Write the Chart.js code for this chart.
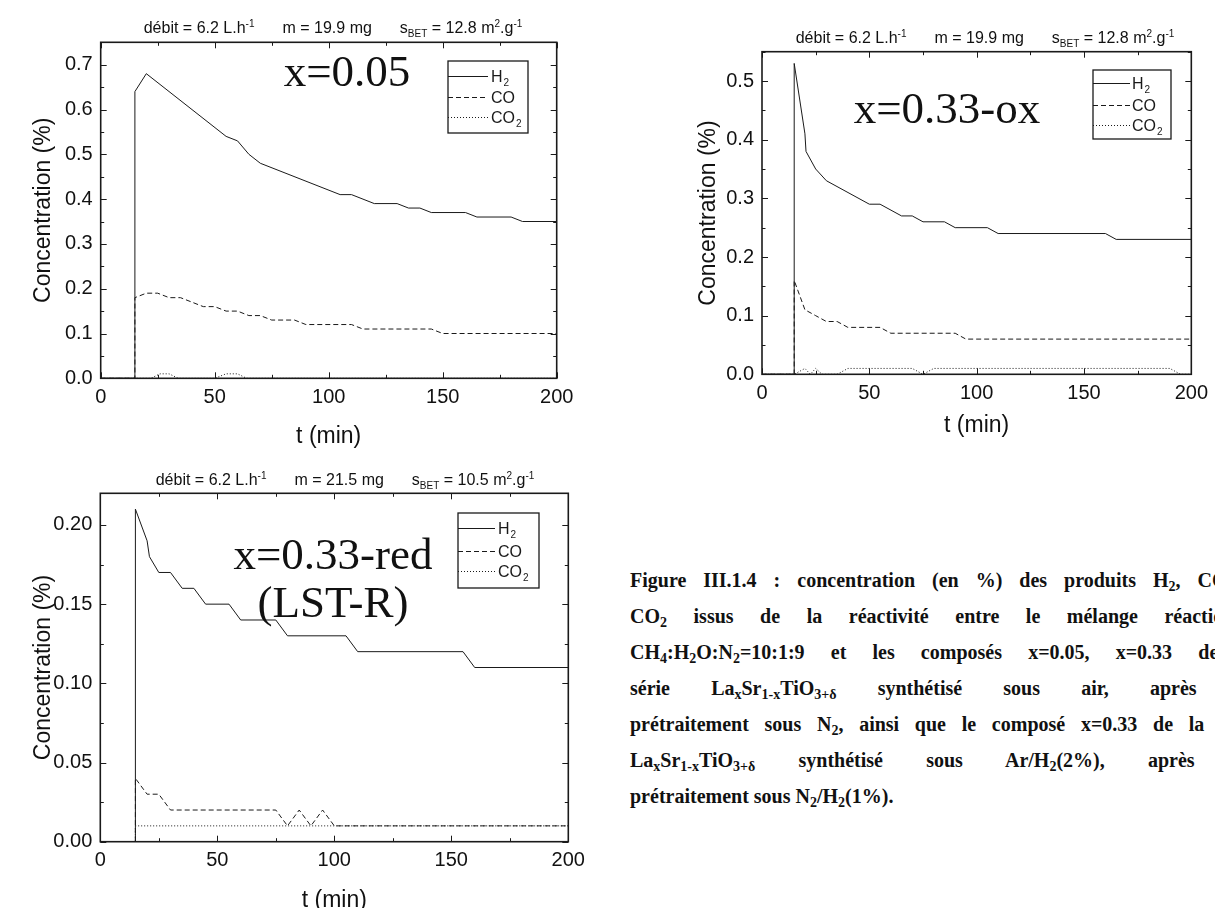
<!DOCTYPE html>
<html>
<head>
<meta charset="utf-8">
<script src="https://cdn.jsdelivr.net/npm/chart.js@4.4.0/dist/chart.umd.min.js"></script>
<style>
body { margin: 0; width: 1215px; height: 908px; overflow: hidden; background: #fff; position: relative; font-family: 'Liberation Sans', Arial, sans-serif; color: #111; }
canvas { position: absolute; }
.cond { position: absolute; font-size: 16px; white-space: nowrap; transform: translateX(-50%); line-height: 1; }
.cond span { margin: 0 14px; }
.cond sup, .cond sub { font-size: 10px; line-height: 0; }
.lbl { position: absolute; font-family: 'Liberation Serif', 'Times New Roman', serif; font-size: 45px; white-space: nowrap; line-height: 48px; text-align: center; transform: translateX(-50%); }
.caption { position: absolute; left: 630px; top: 562px; width: 630px; font-family: 'Liberation Serif', 'Times New Roman', serif; font-weight: bold; font-size: 20px; line-height: 36px; }
.caption div { text-align: justify; text-align-last: justify; white-space: nowrap; }
.caption div.last { text-align: left; text-align-last: left; }
.caption sub { font-size: 0.7em; line-height: 0; vertical-align: -0.25em; }
</style>
</head>
<body>
<canvas id="c1" width="600" height="460" style="left:0;top:0"></canvas>
<canvas id="c2" width="575" height="460" style="left:640px;top:0"></canvas>
<canvas id="c3" width="600" height="470" style="left:0;top:460px"></canvas>

<div class="cond" style="left:333px;top:20px"><span>débit = 6.2 L.h<sup>-1</sup></span><span>m = 19.9 mg</span><span>s<sub>BET</sub> = 12.8 m<sup>2</sup>.g<sup>-1</sup></span></div>
<div class="cond" style="left:985px;top:30px"><span>débit = 6.2 L.h<sup>-1</sup></span><span>m = 19.9 mg</span><span>s<sub>BET</sub> = 12.8 m<sup>2</sup>.g<sup>-1</sup></span></div>
<div class="cond" style="left:345px;top:472px"><span>débit = 6.2 L.h<sup>-1</sup></span><span>m = 21.5 mg</span><span>s<sub>BET</sub> = 10.5 m<sup>2</sup>.g<sup>-1</sup></span></div>

<div class="lbl" style="left:347px;top:47px">x=0.05</div>
<div class="lbl" style="left:947px;top:84px">x=0.33-ox</div>
<div class="lbl" style="left:333px;top:530px">x=0.33-red<br>(LST-R)</div>

<div class="caption">
<div>Figure III.1.4 : concentration (en %) des produits H<sub>2</sub>, CO et</div>
<div>CO<sub>2</sub> issus de la réactivité entre le mélange réactionnel</div>
<div>CH<sub>4</sub>:H<sub>2</sub>O:N<sub>2</sub>=10:1:9 et les composés x=0.05, x=0.33 de la</div>
<div>série La<sub>x</sub>Sr<sub>1-x</sub>TiO<sub>3+δ</sub> synthétisé sous air, après un</div>
<div>prétraitement sous N<sub>2</sub>, ainsi que le composé x=0.33 de la série</div>
<div>La<sub>x</sub>Sr<sub>1-x</sub>TiO<sub>3+δ</sub> synthétisé sous Ar/H<sub>2</sub>(2%), après un</div>
<div class="last">prétraitement sous N<sub>2</sub>/H<sub>2</sub>(1%).</div>
</div>

<script>
'use strict';
// x = 0.05
const t1H2 = [0, 15, 15, 20, 55, 60, 65, 70, 105, 110, 120, 130, 135, 140, 145, 160, 165, 180, 185, 200];
const c1H2 = [0, 0, 0.64, 0.68, 0.54, 0.53, 0.50, 0.48, 0.41, 0.41, 0.39, 0.39, 0.38, 0.38, 0.37, 0.37, 0.36, 0.36, 0.35, 0.35];
const t1CO = [0, 15, 15, 20, 25, 30, 35, 45, 50, 55, 60, 65, 70, 75, 85, 90, 110, 115, 145, 150, 200];
const c1CO = [0, 0, 0.18, 0.19, 0.19, 0.18, 0.18, 0.16, 0.16, 0.15, 0.15, 0.14, 0.14, 0.13, 0.13, 0.12, 0.12, 0.11, 0.11, 0.10, 0.10];
const t1CO2 = [0, 22, 26, 30, 34, 50, 55, 60, 64, 200];
const c1CO2 = [0, 0, 0.01, 0.01, 0, 0, 0.01, 0.01, 0, 0];

// x = 0.33-ox
const t2H2 = [0, 15, 15, 20, 20.5, 25, 30, 50, 55, 65, 70, 75, 85, 90, 105, 110, 160, 165, 200];
const c2H2 = [0, 0, 0.53, 0.41, 0.38, 0.35, 0.33, 0.29, 0.29, 0.27, 0.27, 0.26, 0.26, 0.25, 0.25, 0.24, 0.24, 0.23, 0.23];
const t2CO = [0, 15, 15, 20, 25, 30, 35, 40, 55, 60, 90, 95, 200];
const c2CO = [0, 0, 0.16, 0.11, 0.10, 0.09, 0.09, 0.08, 0.08, 0.07, 0.07, 0.06, 0.06];
const t2CO2 = [0, 15, 20, 22.5, 25, 28, 35, 40, 70, 75, 80, 190, 195, 200];
const c2CO2 = [0, 0, 0.01, 0, 0.01, 0, 0, 0.01, 0.01, 0, 0.01, 0.01, 0, 0];

// x = 0.33-red (LST-R)
const t3H2 = [5, 15, 15, 20, 21, 25, 30, 35, 40, 45, 55, 60, 75, 80, 105, 110, 155, 160, 200];
const c3H2 = [0, 0, 0.21, 0.19, 0.18, 0.17, 0.17, 0.16, 0.16, 0.15, 0.15, 0.14, 0.14, 0.13, 0.13, 0.12, 0.12, 0.11, 0.11];
const t3CO = [5, 15, 15, 20, 25, 30, 75, 80, 85, 90, 95, 100, 200];
const c3CO = [0, 0, 0.04, 0.03, 0.03, 0.02, 0.02, 0.01, 0.02, 0.01, 0.02, 0.01, 0.01];
const t3CO2 = [5, 15, 15, 200];
const c3CO2 = [0, 0, 0.01, 0.01];

// tick labels
const xTicks = [0, 50, 100, 150, 200];
const yTicks1 = [0, 0.1, 0.2, 0.3, 0.4, 0.5, 0.6, 0.7];
const yTicks2 = [0, 0.1, 0.2, 0.3, 0.4, 0.5];
const yTicks3 = [0, 0.05, 0.10, 0.15, 0.20];

const legendNames = [['H', '2'], ['CO', ''], ['CO', '2']];
const dashes = [[], [5, 3], [1, 2]];
const ink = '#1a1a1a';
const fam = "'Liberation Sans', Arial, sans-serif";

function series(t, c) {
    return t.map((v, i) => ({x: v, y: c[i]}));
}

// inward ticks on the four sides + frame
const frameTicks = {
    id: 'frameTicks',
    afterDatasetsDraw(chart) {
        const {ctx, chartArea: a, scales: {x, y}} = chart;
        ctx.save();
        ctx.strokeStyle = ink;
        ctx.lineWidth = 1;
        const xs = x.ticks.map(t => t.value);
        const ys = y.ticks.map(t => t.value);
        function marks(vals, horiz) {
            for (let i = 0; i < vals.length; i++) {
                const list = [[vals[i], 6]];
                if (i < vals.length - 1) list.push([(vals[i] + vals[i + 1]) / 2, 3.5]);
                list.forEach(([v, len]) => {
                    ctx.beginPath();
                    if (horiz) {
                        const p = Math.round(x.getPixelForValue(v)) + 0.5;
                        ctx.moveTo(p, a.bottom); ctx.lineTo(p, a.bottom - len);
                        ctx.moveTo(p, a.top); ctx.lineTo(p, a.top + len);
                    } else {
                        const p = Math.round(y.getPixelForValue(v)) + 0.5;
                        ctx.moveTo(a.left, p); ctx.lineTo(a.left + len, p);
                        ctx.moveTo(a.right, p); ctx.lineTo(a.right - len, p);
                    }
                    ctx.stroke();
                });
            }
        }
        marks(xs, true);
        marks(ys, false);
        // minor tick above the last labelled value
        const last = ys[ys.length - 1], step = ys[1] - ys[0];
        if (last + step / 2 <= y.max + 1e-9) {
            const p = Math.round(y.getPixelForValue(last + step / 2)) + 0.5;
            ctx.beginPath();
            ctx.moveTo(a.left, p); ctx.lineTo(a.left + 3.5, p);
            ctx.moveTo(a.right, p); ctx.lineTo(a.right - 3.5, p);
            ctx.stroke();
        }
        ctx.lineWidth = 1.6;
        ctx.strokeRect(a.left, a.top, a.right - a.left, a.bottom - a.top);
        ctx.restore();
    }
};

// boxed legend with subscripts
const boxLegend = {
    id: 'boxLegend',
    afterDraw(chart, args, o) {
        const ctx = chart.ctx;
        ctx.save();
        ctx.strokeStyle = ink;
        ctx.fillStyle = ink;
        ctx.lineWidth = 1.3;
        ctx.strokeRect(o.left, o.top, o.right - o.left, o.bottom - o.top);
        ctx.lineWidth = 1;
        ctx.textBaseline = 'middle';
        chart.data.datasets.forEach((ds, i) => {
            const yy = o.rows[i] + 0.5;
            ctx.setLineDash(ds.borderDash || []);
            ctx.beginPath();
            ctx.moveTo(o.left, yy);
            ctx.lineTo(o.lineEnd, yy);
            ctx.stroke();
            ctx.setLineDash([]);
            const [main, sub] = legendNames[i];
            ctx.font = o.size + 'px ' + fam;
            ctx.fillText(main, o.textX, yy + 1);
            const w = ctx.measureText(main).width;
            if (sub) {
                ctx.font = Math.round(o.size * 0.65) + 'px ' + fam;
                ctx.fillText(sub, o.textX + w + 1, yy + 7);
            }
        });
        ctx.restore();
    }
};

function makeChart(id, o) {
    const dsets = o.t.map((t, i) => ({
        label: legendNames[i].join(''),
        data: series(t, o.c[i]),
        borderDash: dashes[i],
        borderColor: ink,
        borderWidth: 1,
        pointRadius: 0,
        showLine: true,
        tension: 0
    }));
    return new Chart(document.getElementById(id), {
        type: 'scatter',
        data: {datasets: dsets},
        plugins: [frameTicks, boxLegend],
        options: {
            responsive: false,
            animation: false,
            layout: {padding: {top: o.top, right: o.right, left: 0, bottom: 0}},
            plugins: {
                legend: {display: false},
                tooltip: {enabled: false},
                boxLegend: o.legend
            },
            scales: {
                x: {
                    type: 'linear', min: 0, max: 200,
                    afterBuildTicks: s => { s.ticks = xTicks.map(v => ({value: v})); },
                    afterFit: s => { s.height = o.xH; },
                    grid: {display: false, drawTicks: false},
                    border: {display: false},
                    ticks: {color: '#111', font: {size: 20, family: fam}, padding: 7, maxRotation: 0, callback: v => String(v)},
                    title: {display: true, text: 't (min)', color: '#111', font: {size: 23, family: fam}, padding: {top: o.xtp, bottom: o.xtp}}
                },
                y: {
                    type: 'linear', min: 0, max: o.ymax,
                    afterBuildTicks: s => { s.ticks = o.yTicks.map(v => ({value: v})); },
                    afterFit: s => { s.width = o.yW; },
                    grid: {display: false, drawTicks: false},
                    border: {display: false},
                    ticks: {color: '#111', font: {size: 20, family: fam}, padding: 8, callback: v => v.toFixed(o.dec)},
                    title: {display: true, text: 'Concentration (%)', color: '#111', font: {size: 23, family: fam}, padding: {top: o.ytp, bottom: o.ytp}}
                }
            }
        }
    });
}

makeChart('c1', {
    t: [t1H2, t1CO, t1CO2], c: [c1H2, c1CO, c1CO2],
    ymax: 0.75, yTicks: yTicks1, dec: 1,
    top: 42.3, right: 43.3, yW: 100.7, xH: 81.7, ytp: 30, xtp: 10,
    legend: {left: 448, top: 61, right: 528, bottom: 133, rows: [76, 97, 117], lineEnd: 488, textX: 491, size: 16}
});
makeChart('c2', {
    t: [t2H2, t2CO, t2CO2], c: [c2H2, c2CO, c2CO2],
    ymax: 0.55, yTicks: yTicks2, dec: 1,
    top: 51.7, right: 18.3, yW: 122, xH: 85.7, ytp: 55, xtp: 21,
    legend: {left: 1093 - 640, top: 70, right: 1171 - 640, bottom: 139, rows: [83, 105, 125], lineEnd: 490, textX: 492, size: 16}
});
makeChart('c3', {
    t: [t3H2, t3CO, t3CO2], c: [c3H2, c3CO, c3CO2],
    ymax: 0.22, yTicks: yTicks3, dec: 2,
    top: 33.3, right: 31.7, yW: 100.3, xH: 88.3, ytp: 30, xtp: 16,
    legend: {left: 458, top: 53, right: 539, bottom: 128, rows: [68, 91, 111], lineEnd: 495, textX: 498, size: 16}
});
</script>
</body>
</html>
